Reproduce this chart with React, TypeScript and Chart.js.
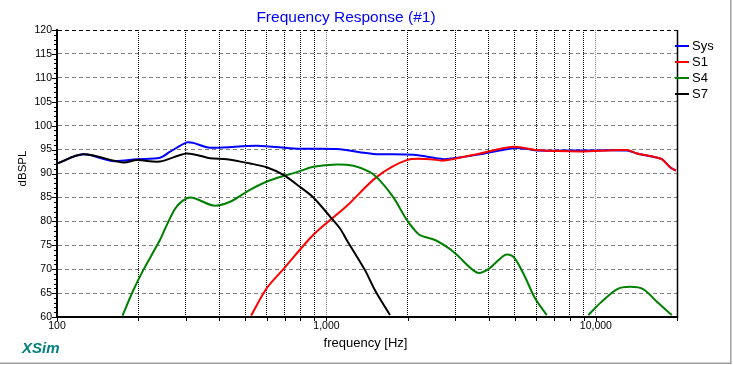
import React, { useEffect, useRef } from 'react';
import { Chart, registerables } from 'chart.js';

Chart.register(...registerables);

// ---- data ----
const sysFreq = [100, 125, 161, 198, 241, 262, 303, 320, 370, 551, 776, 1091, 1493, 2101, 2718, 2959, 3717, 4940, 5600, 6040, 8740, 13020, 14180, 16340, 17570, 18850, 19800];
const sysDb = [92.1, 94.0, 92.6, 93.0, 93.3, 94.5, 96.5, 96.4, 95.4, 95.8, 95.2, 95.1, 94.1, 93.9, 93.0, 93.2, 94.0, 95.3, 95.1, 94.8, 94.8, 94.8, 94.2, 93.5, 93.0, 91.3, 90.6];

const s1Freq = [525, 600, 692, 857, 947, 1189, 1538, 1987, 2426, 2718, 3717, 4940, 6040, 8740, 13020, 14180, 16340, 17570, 18850, 19800];
const s1Db = [60.3, 66.0, 70.0, 76.1, 78.5, 83.2, 89.3, 92.8, 93.0, 92.7, 94.2, 95.6, 94.9, 94.6, 94.9, 94.2, 93.5, 93.0, 91.3, 90.6];

const s4Freq = [175, 192, 209, 241, 252, 278, 312, 381, 439, 520, 618, 787, 894, 1091, 1259, 1452, 1581, 1772, 1987, 2101, 2223, 2528, 2877, 3047, 3615, 3990, 4605, 4940, 5382, 5946, 6570, 8000, 9375, 10370, 11970, 13410, 15020, 16840, 19140];
const s4Db = [60.3, 65.6, 69.8, 76.1, 78.5, 83.1, 85.0, 83.3, 84.1, 86.6, 88.6, 90.4, 91.4, 91.9, 91.6, 90.3, 88.5, 85.0, 80.3, 78.5, 77.1, 76.1, 74.2, 73.0, 69.3, 70.0, 73.0, 72.6, 69.1, 63.9, 60.4, null, 60.4, 62.9, 65.8, 66.3, 65.8, 63.2, 60.4];

const s7Freq = [100, 125, 176, 198, 241, 303, 370, 427, 520, 600, 692, 785, 894, 1031, 1123, 1189, 1390, 1514, 1721];
const s7Db = [92.1, 94.0, 92.3, 92.8, 92.5, 94.2, 93.2, 93.0, 92.1, 91.3, 89.7, 87.5, 85.0, 81.0, 78.5, 76.1, 69.8, 65.6, 60.4];

const xTickValues = [100, 200, 300, 400, 500, 600, 700, 800, 900, 1000, 2000, 3000, 4000, 5000, 6000, 7000, 8000, 9000, 10000, 20000];
const xLabelValues = [100, 1000, 10000];
const xLabelTexts = ['100', '1,000', '10,000'];
const yTickValues = [60, 65, 70, 75, 80, 85, 90, 95, 100, 105, 110, 115, 120];

const seriesNames = ['Sys', 'S1', 'S4', 'S7'];
const seriesColors = ['#0000ff', '#ff0000', '#008000', '#000000'];

const FONT = '"Liberation Sans", Arial, sans-serif';

const toPoints = (fs: number[], vs: (number | null)[]) => fs.map((f, i) => ({ x: f, y: vs[i] }));

const decorPlugin = {
  id: 'decor',
  afterDraw(chart: any) {
    const ctx = chart.ctx as CanvasRenderingContext2D;
    const { left, right, top, bottom } = chart.chartArea;
    const xs = chart.scales.x;
    const ys = chart.scales.y;
    ctx.save();

    // right border of plot
    ctx.strokeStyle = '#000';
    ctx.lineWidth = 1.5;
    ctx.beginPath();
    ctx.moveTo(right + 0.5, top);
    ctx.lineTo(right + 0.5, bottom + 1);
    ctx.stroke();

    // y tick marks (major + minor)
    ctx.lineWidth = 1;
    for (let v = 60; v <= 120; v += 1) {
      const len = v % 5 === 0 ? 5 : 3;
      const y = Math.round(ys.getPixelForValue(v)) + 0.5;
      ctx.beginPath();
      ctx.moveTo(left - len, y);
      ctx.lineTo(left, y);
      ctx.stroke();
    }
    // x tick marks
    xTickValues.forEach((v) => {
      const x = Math.round(xs.getPixelForValue(v)) + 0.5;
      ctx.beginPath();
      ctx.moveTo(x, bottom);
      ctx.lineTo(x, bottom + 4);
      ctx.stroke();
    });

    // legend
    ctx.font = `13px ${FONT}`;
    ctx.textAlign = 'left';
    ctx.textBaseline = 'middle';
    seriesNames.forEach((name, i) => {
      const y = 46 + i * 16;
      ctx.strokeStyle = seriesColors[i];
      ctx.lineWidth = 2;
      ctx.beginPath();
      ctx.moveTo(675, y);
      ctx.lineTo(689, y);
      ctx.stroke();
      ctx.fillStyle = '#000';
      ctx.fillText(name, 692, y + 0.5);
    });

    // title
    ctx.fillStyle = '#0000ff';
    ctx.font = `15.5px ${FONT}`;
    ctx.textAlign = 'center';
    ctx.textBaseline = 'alphabetic';
    ctx.fillText('Frequency Response (#1)', 346, 21.5);

    // x axis title
    ctx.fillStyle = '#000';
    ctx.font = `13px ${FONT}`;
    ctx.fillText('frequency [Hz]', 365.5, 346.5);

    // y axis title
    ctx.save();
    ctx.translate(22.5, 168.5);
    ctx.rotate(-Math.PI / 2);
    ctx.font = `11.5px ${FONT}`;
    ctx.textBaseline = 'middle';
    ctx.fillText('dBSPL', 0, 0);
    ctx.restore();

    // XSim watermark
    ctx.fillStyle = '#008080';
    ctx.font = `italic bold 15px ${FONT}`;
    ctx.textAlign = 'left';
    ctx.fillText('XSim', 22, 353);

    // window frame
    ctx.fillStyle = '#a0a0a0';
    ctx.fillRect(730, 0, 1.5, 364);
    ctx.fillRect(0, 362.5, 731.5, 1.5);

    ctx.restore();
  },
};

export default function App() {
  const ref = useRef<HTMLCanvasElement | null>(null);

  useEffect(() => {
    if (!ref.current) return;
    const datasets = [
      { label: 'Sys', data: toPoints(sysFreq, sysDb), borderColor: seriesColors[0], order: 4 },
      { label: 'S1', data: toPoints(s1Freq, s1Db), borderColor: seriesColors[1], order: 3 },
      { label: 'S4', data: toPoints(s4Freq, s4Db), borderColor: seriesColors[2], order: 2 },
      { label: 'S7', data: toPoints(s7Freq, s7Db), borderColor: seriesColors[3], order: 1 },
    ].map((d) => ({
      ...d,
      borderWidth: 2,
      pointRadius: 0,
      fill: false,
      spanGaps: false,
      tension: 0.3,
    }));

    const chart = new Chart(ref.current, {
      type: 'line',
      data: { datasets },
      plugins: [decorPlugin],
      options: {
        animation: false,
        responsive: false,
        devicePixelRatio: 1,
        events: [],
        layout: { padding: { left: 0, top: 30, right: 56, bottom: 0 } },
        plugins: {
          legend: { display: false },
          title: { display: false },
          tooltip: { enabled: false },
        },
        scales: {
          x: {
            type: 'logarithmic',
            min: 100,
            max: 20000,
            afterBuildTicks: (scale: any) => {
              scale.ticks = xTickValues.map((v) => ({ value: v, major: false }));
            },
            afterFit: (scale: any) => {
              scale.height = 48;
            },
            ticks: {
              autoSkip: false,
              maxRotation: 0,
              minRotation: 0,
              padding: 3,
              color: '#000',
              font: { family: FONT, size: 10.5 },
              callback: (value: any) => {
                const idx = xLabelValues.indexOf(Number(value));
                return idx >= 0 ? xLabelTexts[idx] : '';
              },
            },
            grid: {
              drawTicks: false,
              lineWidth: 1,
              color: (c: any) => {
                const v = c.tick ? c.tick.value : 0;
                return xLabelValues.indexOf(v) >= 0 ? '#808080' : '#000000';
              },
            },
            border: { display: true, color: '#000', width: 2, dash: [1, 1] },
          },
          y: {
            type: 'linear',
            min: 60,
            max: 120,
            afterBuildTicks: (scale: any) => {
              scale.ticks = yTickValues.map((v) => ({ value: v }));
            },
            afterFit: (scale: any) => {
              scale.width = 57;
            },
            ticks: {
              autoSkip: false,
              padding: 5,
              color: '#000',
              font: { family: FONT, size: 10.5 },
              callback: (value: any) => String(value),
            },
            grid: {
              drawTicks: false,
              lineWidth: 1,
              color: (c: any) => {
                const v = c.tick ? c.tick.value : 0;
                if (v === 60) return 'rgba(0,0,0,0)';
                if (v === 120) return '#000000';
                return '#808080';
              },
            },
            border: { display: true, color: '#000', width: 2, dash: [4, 3] },
          },
        },
      },
    });
    return () => chart.destroy();
  }, []);

  return (
    <div style={{ position: 'absolute', left: 0, top: 0, width: 733, height: 365, background: '#fff' }}>
      <canvas ref={ref} width={733} height={365} style={{ display: 'block', width: 733, height: 365 }} />
    </div>
  );
}
